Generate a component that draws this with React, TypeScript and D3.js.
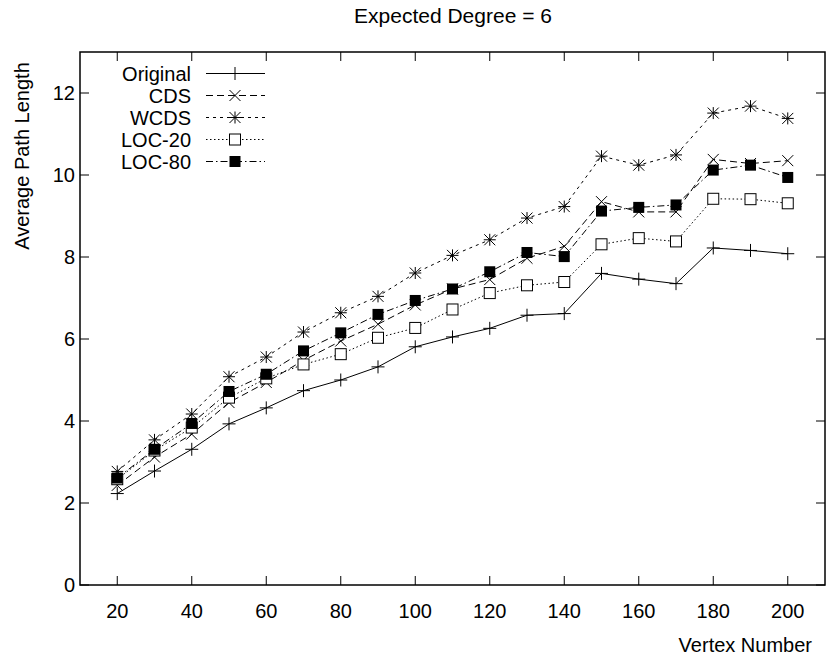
import React from 'react';
import * as d3 from 'd3';

const vertexNumbers = [20, 30, 40, 50, 60, 70, 80, 90, 100, 110, 120, 130, 140, 150, 160, 170, 180, 190, 200];

const original = [2.23, 2.78, 3.31, 3.93, 4.32, 4.74, 5.0, 5.32, 5.81, 6.05, 6.26, 6.58, 6.62, 7.6, 7.46, 7.35, 8.22, 8.16, 8.08];
const cds = [2.43, 3.12, 3.68, 4.45, 4.94, 5.48, 5.95, 6.36, 6.83, 7.22, 7.45, 7.97, 8.26, 9.35, 9.1, 9.1, 10.38, 10.28, 10.35];
const wcds = [2.77, 3.54, 4.17, 5.08, 5.56, 6.17, 6.64, 7.04, 7.61, 8.04, 8.42, 8.95, 9.23, 10.46, 10.24, 10.49, 11.51, 11.68, 11.38];
const loc20 = [2.58, 3.28, 3.84, 4.57, 5.04, 5.38, 5.63, 6.03, 6.27, 6.72, 7.12, 7.31, 7.39, 8.31, 8.46, 8.38, 9.42, 9.41, 9.31];
const loc80 = [2.61, 3.31, 3.94, 4.72, 5.14, 5.71, 6.15, 6.6, 6.94, 7.22, 7.64, 8.11, 8.01, 9.12, 9.21, 9.27, 10.12, 10.24, 9.94];

const xTicks = [20, 40, 60, 80, 100, 120, 140, 160, 180, 200];
const yTicks = [0, 2, 4, 6, 8, 10, 12];

const series = [
  { name: 'Original', values: original, dash: 'none', marker: 'plus' },
  { name: 'CDS', values: cds, dash: '7,4', marker: 'cross' },
  { name: 'WCDS', values: wcds, dash: '3,4', marker: 'star' },
  { name: 'LOC-20', values: loc20, dash: '1.5,2.5', marker: 'box' },
  { name: 'LOC-80', values: loc80, dash: '7,3,1.5,3', marker: 'fbox' },
];

const font = 'Liberation Sans, Arial, Helvetica, sans-serif';

function Marker({ type, x, y }: { type: string; x: number; y: number }) {
  const s = 5.5;
  if (type === 'plus') {
    return <path d={`M${x - 6.5},${y}H${x + 6.5}M${x},${y - 6.5}V${y + 6.5}`} stroke="#000" strokeWidth={1} />;
  }
  if (type === 'cross') {
    return <path d={`M${x - 5.5},${y - 5.5}L${x + 5.5},${y + 5.5}M${x - 5.5},${y + 5.5}L${x + 5.5},${y - 5.5}`} stroke="#000" strokeWidth={1} />;
  }
  if (type === 'star') {
    return (
      <path
        d={`M${x - 6},${y}H${x + 6}M${x},${y - 6}V${y + 6}M${x - 5.5},${y - 5.5}L${x + 5.5},${y + 5.5}M${x - 5.5},${y + 5.5}L${x + 5.5},${y - 5.5}`}
        stroke="#000"
        strokeWidth={1}
      />
    );
  }
  if (type === 'box') {
    return <rect x={x - s} y={y - s} width={2 * s} height={2 * s} fill="#fff" stroke="#000" strokeWidth={1} />;
  }
  return <rect x={x - s} y={y - s} width={2 * s} height={2 * s} fill="#000" />;
}

export default function App() {
  const width = 826;
  const height = 660;
  const left = 80, right = 825, top = 52, bottom = 585;

  const x = d3.scaleLinear().domain([10, 210]).range([left, right]);
  const y = d3.scaleLinear().domain([0, 13]).range([bottom, top]);

  const line = d3.line<number>()
    .x((d, i) => x(vertexNumbers[i]))
    .y((d) => y(d));

  const tick = 9;

  return (
    <svg width={width} height={height} style={{ position: 'absolute', left: 0, top: 0, background: '#fff' }} fontFamily={font}>
      <rect width={width} height={height} fill="#fff" />

      {/* title */}
      <text x={453} y={23} fontSize={21} textAnchor="middle">Expected Degree = 6</text>

      {/* axis ticks */}
      {xTicks.map((t) => (
        <g key={'x' + t}>
          <line x1={x(t)} x2={x(t)} y1={bottom} y2={bottom - tick} stroke="#000" />
          <line x1={x(t)} x2={x(t)} y1={top} y2={top + tick} stroke="#000" />
          <text x={x(t)} y={618} fontSize={20} textAnchor="middle">{t}</text>
        </g>
      ))}
      {yTicks.map((t) => (
        <g key={'y' + t}>
          <line x1={left} x2={left + tick} y1={y(t)} y2={y(t)} stroke="#000" />
          <line x1={right} x2={right - tick} y1={y(t)} y2={y(t)} stroke="#000" />
          <text x={75} y={y(t)} dy="0.36em" fontSize={20} textAnchor="end">{t}</text>
        </g>
      ))}

      {/* axis labels */}
      <text x={812} y={652} fontSize={20} textAnchor="end">Vertex Number</text>
      <text transform="translate(29,156) rotate(-90)" fontSize={20} textAnchor="middle">Average Path Length</text>

      {/* series */}
      {series.map((s) => (
        <g key={s.name}>
          <path d={line(s.values) || ''} fill="none" stroke="#000" strokeWidth={1} strokeDasharray={s.dash} />
          {s.values.map((v, i) => (
            <Marker key={i} type={s.marker} x={x(vertexNumbers[i])} y={y(v)} />
          ))}
        </g>
      ))}

      {/* legend */}
      {series.map((s, i) => {
        const ly = 73.5 + i * 22;
        return (
          <g key={'lg' + s.name}>
            <text x={191} y={ly} dy="0.36em" fontSize={20} textAnchor="end">{s.name}</text>
            <line x1={206} x2={265} y1={ly} y2={ly} stroke="#000" strokeWidth={1} strokeDasharray={s.dash} />
            <Marker type={s.marker} x={235} y={ly} />
          </g>
        );
      })}

      {/* frame */}
      <rect x={left} y={top} width={right - left} height={bottom - top} fill="none" stroke="#000" strokeWidth={1.5} />
    </svg>
  );
}
